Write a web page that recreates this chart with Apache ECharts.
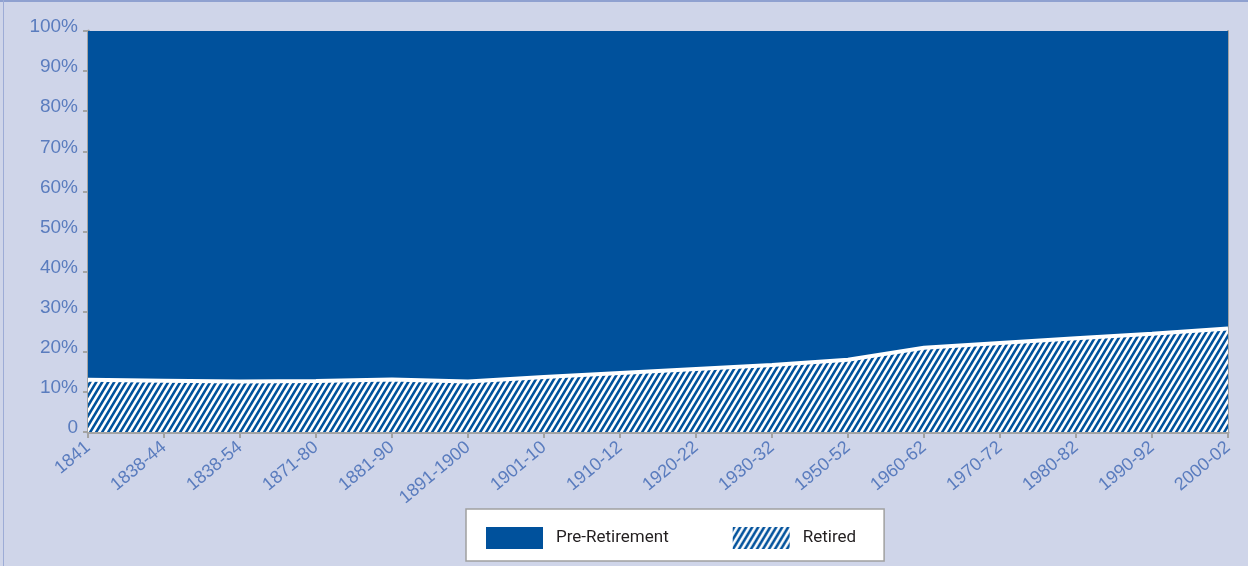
<!DOCTYPE html>
<html>
<head>
<meta charset="utf-8">
<script src="https://cdn.jsdelivr.net/npm/echarts@6/dist/echarts.min.js"></script>
<style>
  html, body { margin: 0; padding: 0; background: #cfd5e9; }
  #frame {
    position: absolute; left: 0; top: 0; width: 1248px; height: 566px;
    box-sizing: border-box; border-top: 2px solid #8fa1d0;
  }
  #edge { position: absolute; left: 3px; top: 0; width: 1px; height: 566px; background: #9dacd6; }
  #main { position: absolute; left: 0; top: 0; width: 1248px; height: 566px; }
</style>
</head>
<body>
<div id="frame"></div>
<div id="edge"></div>
<div id="main"></div>
<script>
// data
var categories = ["1841", "1838-44", "1838-54", "1871-80", "1881-90", "1891-1900", "1901-10",
  "1910-12", "1920-22", "1930-32", "1950-52", "1960-62", "1970-72", "1980-82", "1990-92", "2000-02"];
var retired = [13.0, 12.8, 12.6, 12.7, 13.1, 12.6, 13.7, 14.7, 15.7, 16.7, 18.0, 21.0, 22.2, 23.4, 24.5, 25.8];
var preRetirement = [87.0, 87.2, 87.4, 87.3, 86.9, 87.4, 86.3, 85.3, 84.3, 83.3, 82.0, 79.0, 77.8, 76.6, 75.5, 74.2];
var yTicks = [0, 10, 20, 30, 40, 50, 60, 70, 80, 90, 100];

var BLUE = "#00519c";
var LABEL = "#5a7cbe";
var AXIS = "#a3a3a3";

// diagonal hatch used for the "Retired" area
function makeStripes() {
  var w = 6, h = 10;
  var c = document.createElement("canvas");
  c.width = w;
  c.height = h;
  var g = c.getContext("2d");
  g.fillStyle = "#fff";
  g.fillRect(0, 0, w, h);
  g.fillStyle = BLUE;
  for (var k = -1; k <= 1; k++) {
    var x0 = k * w;
    g.beginPath();
    g.moveTo(x0, h);
    g.lineTo(x0 + w, 0);
    g.lineTo(x0 + w + 3, 0);
    g.lineTo(x0 + 3, h);
    g.closePath();
    g.fill();
  }
  return c;
}
var hatch = { image: makeStripes(), repeat: "repeat" };

var myChart = echarts.init(document.getElementById("main"));

var option = {
  animation: false,
  grid: { left: 88, right: 20, top: 31, bottom: 134 },
  legend: {
    left: 466,
    top: 509,
    orient: "horizontal",
    icon: "rect",
    itemWidth: 57,
    itemHeight: 22,
    itemGap: 64,
    padding: [18, 28, 12, 20],
    backgroundColor: "#fff",
    borderColor: "#a0a0a0",
    borderWidth: 1.5,
    borderRadius: 0,
    itemStyle: { borderWidth: 0 },
    textStyle: {
      fontFamily: "Roboto",
      fontSize: 17,
      color: "#231f20",
      padding: [0, 0, 0, 8]
    },
    data: [
      { name: "Pre-Retirement", itemStyle: { color: BLUE } },
      { name: "Retired", itemStyle: { color: hatch } }
    ]
  },
  xAxis: {
    type: "category",
    boundaryGap: false,
    data: categories,
    axisLine: { lineStyle: { color: AXIS, width: 3 } },
    axisTick: { length: 6, lineStyle: { color: AXIS, width: 2 } },
    axisLabel: {
      interval: 0,
      rotate: 40,
      margin: 13,
      color: LABEL,
      fontFamily: "Liberation Sans",
      fontSize: 18
    },
    splitLine: { show: false }
  },
  yAxis: [
    {
      type: "value",
      min: 0,
      max: 100,
      interval: 10,
      axisLine: { show: true, lineStyle: { color: AXIS, width: 3 } },
      axisTick: { show: true, length: 5, lineStyle: { color: AXIS, width: 2 } },
      axisLabel: {
        margin: 10,
        color: LABEL,
        fontFamily: "Liberation Sans",
        fontSize: 19,
        verticalAlign: "bottom",
        lineHeight: 8,
        formatter: function (v) {
          return yTicks.indexOf(v) > 0 ? v + "%" : "0";
        }
      },
      splitLine: { show: false }
    },
    {
      type: "value",
      position: "right",
      min: 0,
      max: 100,
      interval: 10,
      axisLine: { show: true, lineStyle: { color: AXIS, width: 2 } },
      axisTick: { show: false },
      axisLabel: { show: false },
      splitLine: { show: false }
    }
  ],
  series: [
    {
      name: "Retired",
      type: "line",
      stack: "total",
      z: 5,
      showSymbol: false,
      symbol: "none",
      lineStyle: { color: "#fff", width: 4 },
      itemStyle: { color: BLUE },
      areaStyle: { color: hatch, opacity: 1 },
      data: retired
    },
    {
      name: "Pre-Retirement",
      type: "line",
      stack: "total",
      z: 2,
      showSymbol: false,
      symbol: "none",
      lineStyle: { width: 0 },
      itemStyle: { color: BLUE },
      areaStyle: { color: BLUE, opacity: 1 },
      data: preRetirement
    }
  ]
};

option && myChart.setOption(option);
</script>
</body>
</html>
